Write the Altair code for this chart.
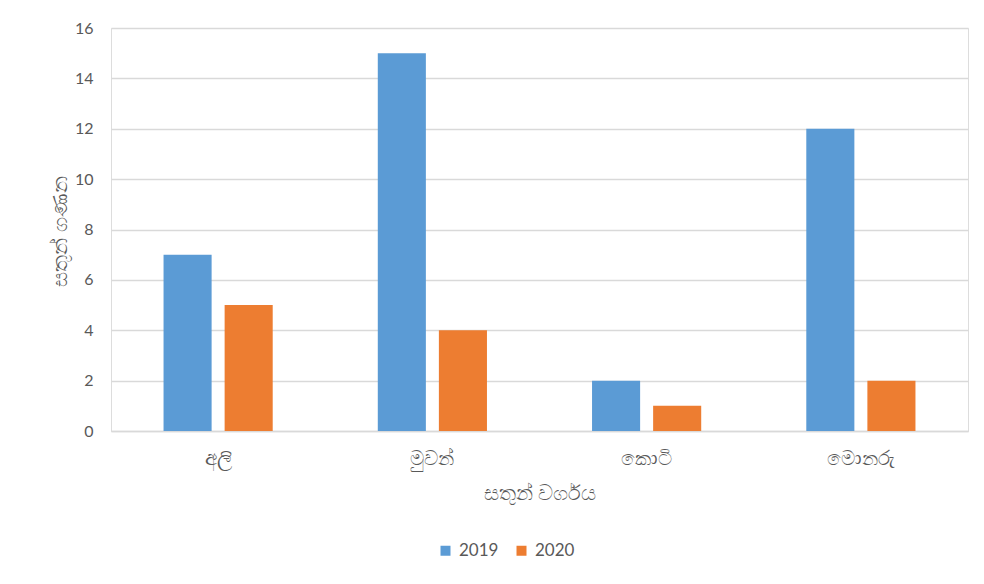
import altair as alt
import pandas as pd

categories = ["අලි", "මුවන්", "කොටි", "මොනරු"]
years = ["2019", "2020"]
values_2019 = [7, 15, 2, 12]
values_2020 = [5, 4, 1, 2]

rows = []
for c, v in zip(categories, values_2019):
    rows.append({"cat": c, "year": "2019", "value": v})
for c, v in zip(categories, values_2020):
    rows.append({"cat": c, "year": "2020", "value": v})
df = pd.DataFrame(rows)

FONT = "Lato"
TXT = "#595959"
GRID = "#d9d9d9"

bars = alt.Chart(df).mark_bar().encode(
    x=alt.X("cat:N", sort=categories,
            scale=alt.Scale(paddingInner=0, paddingOuter=0),
            axis=alt.Axis(title="සතුන් වර්ගය", labelAngle=0, ticks=False,
                          domain=True, domainColor=GRID, domainWidth=1.3,
                          labelPadding=17, labelFontSize=20, labelColor=TXT,
                          labelFont=FONT, titleFont=FONT, titleFontSize=21,
                          titleFontWeight="normal", titleColor=TXT,
                          titleY=62, titleBaseline="middle")),
    xOffset=alt.XOffset("year:N", sort=years,
                        scale=alt.Scale(paddingInner=0.213, paddingOuter=0.86)),
    y=alt.Y("value:Q",
            scale=alt.Scale(domain=[0, 16], nice=False),
            axis=alt.Axis(title="සතුන් ගණන", values=list(range(0, 17, 2)),
                          ticks=False, domain=False, grid=True,
                          gridColor=GRID, gridWidth=1.3,
                          labelPadding=18, labelFontSize=16, labelColor=TXT,
                          labelFont=FONT, titleFont=FONT, titleFontSize=21,
                          titleFontWeight="normal", titleColor=TXT,
                          titleX=-51, titleY=203, titleAngle=-90,
                          titleBaseline="middle")),
    color=alt.Color("year:N", sort=years,
                    scale=alt.Scale(domain=years, range=["#5B9BD5", "#ED7D31"]),
                    legend=alt.Legend(title=None, orient="none", direction="horizontal",
                                      legendX=326, legendY=514,
                                      symbolType="square", symbolSize=100,
                                      symbolStrokeWidth=0,
                                      labelFontSize=17, labelColor=TXT,
                                      labelFont=FONT, labelOffset=5,
                                      columnPadding=14)),
)

chart = bars.properties(
    width=857, height=403,
    autosize=alt.AutoSizeParams(type="none"),
    padding={"left": 103, "top": 20, "right": 8, "bottom": 135},
).configure_view(stroke=None).configure(background="white")

chart.save("out.html", embed_options={"renderer": "svg", "actions": False})
